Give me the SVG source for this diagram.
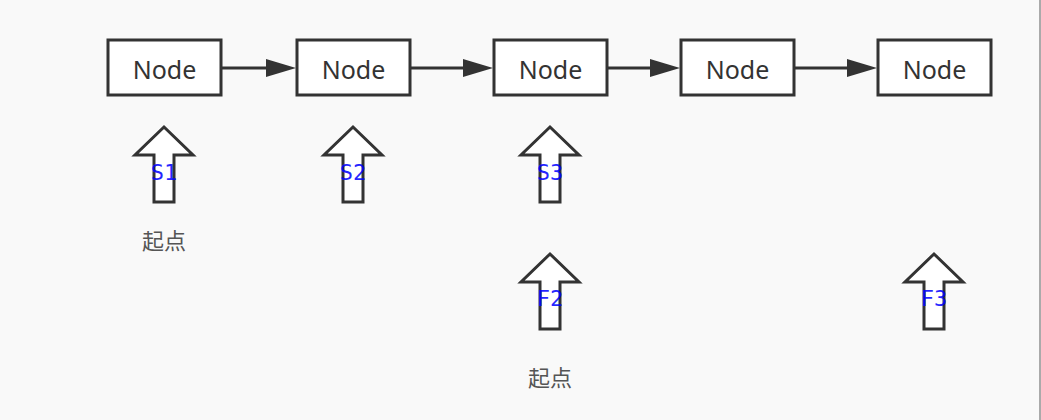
<svg xmlns="http://www.w3.org/2000/svg" width="1041" height="420" viewBox="0 0 1041 420">
<defs>
<style>
.node rect{fill:#fff;stroke:#333;stroke-width:3}
.node text{font-family:"Noto Sans","Open Sans",sans-serif;font-size:25px;fill:#333;text-anchor:middle}
.edge{stroke:#333;stroke-width:3;fill:none}
.ah{fill:#333}
.blk{fill:#fff;stroke:#333;stroke-width:3;stroke-linejoin:miter}
.lbl{font-family:"DejaVu Sans Mono","Liberation Mono",monospace;font-size:22px;fill:#0000ff;text-anchor:middle;opacity:0.85}
.cap{font-family:"Noto Sans CJK SC",sans-serif;font-size:22px;fill:#555;text-anchor:middle}
</style>
<path id="up" d="M0,0 L29,28 L10,28 L10,75 L-10,75 L-10,28 L-29,28 Z"/>
</defs>
<rect x="0" y="0" width="1041" height="420" fill="#f9f9f9"/>
<line x1="1040" y1="0" x2="1040" y2="420" stroke="#aaa" stroke-width="2"/>
<g id="connectors">
<line class="edge" x1="222" y1="68" x2="268" y2="68"/>
<path class="ah" d="M266,59 L296,68 L266,77 Z"/>
<line class="edge" x1="411" y1="68" x2="465" y2="68"/>
<path class="ah" d="M463,59 L493,68 L463,77 Z"/>
<line class="edge" x1="608" y1="68" x2="652" y2="68"/>
<path class="ah" d="M650,59 L680,68 L650,77 Z"/>
<line class="edge" x1="795" y1="68" x2="849" y2="68"/>
<path class="ah" d="M847,59 L877,68 L847,77 Z"/>
</g>
<g id="n1" class="node"><rect x="108" y="40" width="113" height="55"/><text x="164.5" y="79">Node</text></g>
<g id="n2" class="node"><rect x="297" y="40" width="113" height="55"/><text x="353.5" y="79">Node</text></g>
<g id="n3" class="node"><rect x="494" y="40" width="113" height="55"/><text x="550.5" y="79">Node</text></g>
<g id="n4" class="node"><rect x="681" y="40" width="113" height="55"/><text x="737.5" y="79">Node</text></g>
<g id="n5" class="node"><rect x="878" y="40" width="113" height="55"/><text x="934.5" y="79">Node</text></g>
<g id="s1"><use href="#up" class="blk" x="164" y="127"/><text class="lbl" x="164" y="180">S1</text></g>
<g id="s2"><use href="#up" class="blk" x="353" y="127"/><text class="lbl" x="353" y="180">S2</text></g>
<g id="s3"><use href="#up" class="blk" x="550" y="127"/><text class="lbl" x="550" y="180">S3</text></g>
<g id="f2"><use href="#up" class="blk" x="550" y="254"/><text class="lbl" x="550" y="306">F2</text></g>
<g id="f3"><use href="#up" class="blk" x="934" y="254"/><text class="lbl" x="934" y="306">F3</text></g>
<text class="cap" x="164" y="249">起点</text>
<text class="cap" x="550" y="386">起点</text>
</svg>
